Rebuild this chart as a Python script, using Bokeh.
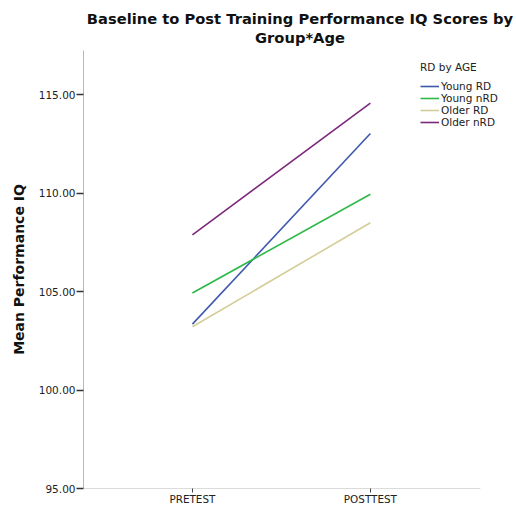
from bokeh.plotting import figure
from bokeh.models import Range1d, FixedTicker, Legend, LegendItem, Title, NumeralTickFormatter
from bokeh.embed import file_html
from bokeh.resources import INLINE

categories = ["PRETEST", "POSTTEST"]
series_names = ["Young RD", "Young nRD", "Older RD", "Older nRD"]
young_rd = [103.35, 113.03]
young_nrd = [104.93, 109.95]
older_rd = [103.22, 108.50]
older_nrd = [107.88, 114.58]
series_values = [young_rd, young_nrd, older_rd, older_nrd]
colors = ["#3E58AC", "#2EB848", "#D3CE97", "#7C287D"]
y_ticks = [95, 100, 105, 110, 115]
title_lines = ["Baseline to Post Training Performance IQ Scores by", "Group*Age"]

FONT = "DejaVu Sans"
X_START, X_END, X_AXIS_END = -0.612, 1.821, 1.618
Y_START, Y_END = 95, 117.25

p = figure(width=516, height=507, output_backend="svg", toolbar_location=None,
           x_range=Range1d(X_START, X_END), y_range=Range1d(Y_START, Y_END),
           min_border_left=83, min_border_right=0, min_border_top=50, min_border_bottom=18)
p.outline_line_color = None
p.xgrid.visible = False
p.ygrid.visible = False
p.background_fill_color = "white"
p.border_fill_color = "white"

# x-axis baseline only up to the end of the category area
p.line([X_START, X_AXIS_END], [Y_START, Y_START], line_color="#b8b8b8", line_width=1)

xs = list(range(len(categories)))
items = []
for name, vals, c in zip(series_names, series_values, colors):
    r = p.line(xs, vals, line_color=c, line_width=1.6)
    items.append(LegendItem(label=name, renderers=[r]))

# titles (second line added first so it sits closest to the plot)
p.add_layout(Title(text=title_lines[1], align="center", text_font=FONT, text_font_size="14.7px",
                   text_font_style="bold", text_color="#111111", standoff=9), "above")
p.add_layout(Title(text=title_lines[0], align="center", text_font=FONT, text_font_size="14.7px",
                   text_font_style="bold", text_color="#111111", standoff=-8), "above")

# axes
p.xaxis.ticker = FixedTicker(ticks=xs)
p.xaxis.major_label_overrides = {i: c for i, c in enumerate(categories)}
p.xaxis.minor_tick_line_color = None
p.xaxis.major_tick_in = 0
p.xaxis.major_tick_out = 4
p.xaxis.axis_line_color = None
p.xaxis.major_tick_line_color = "#444444"
p.xaxis.major_label_text_font = FONT
p.xaxis.major_label_text_font_size = "10.4px"
p.xaxis.major_label_text_line_height = 0.8
p.xaxis.major_label_text_color = "#222222"
p.xaxis.major_label_standoff = 0

p.yaxis.ticker = FixedTicker(ticks=y_ticks)
p.yaxis.formatter = NumeralTickFormatter(format="0.00")
p.yaxis.minor_tick_line_color = None
p.yaxis.major_tick_in = 0
p.yaxis.major_tick_out = 7
p.yaxis.axis_line_color = "#b8b8b8"
p.yaxis.major_tick_line_color = "#333333"
p.yaxis.major_tick_line_width = 1.5
p.yaxis.major_label_text_font = FONT
p.yaxis.major_label_text_font_size = "10.5px"
p.yaxis.major_label_text_color = "#222222"
p.yaxis.major_label_standoff = 1
p.yaxis.axis_label = "Mean Performance IQ"
p.yaxis.axis_label_text_font = FONT
p.yaxis.axis_label_text_font_size = "14px"
p.yaxis.axis_label_text_font_style = "bold"
p.yaxis.axis_label_text_color = "#111111"
p.yaxis.axis_label_standoff = 9

legend = Legend(items=items, location=(337, 360), title="RD by AGE",
                title_text_font=FONT, title_text_font_size="10.5px",
                title_text_font_style="normal", title_text_color="#222222",
                title_standoff=7,
                label_text_font=FONT, label_text_font_size="10.5px", label_text_color="#222222",
                glyph_width=19, glyph_height=10, label_height=10, label_standoff=2,
                spacing=0, padding=2, margin=0, border_line_color=None,
                background_fill_alpha=0)
p.add_layout(legend, "center")

open("out.html", "w").write(file_html(p, INLINE))
